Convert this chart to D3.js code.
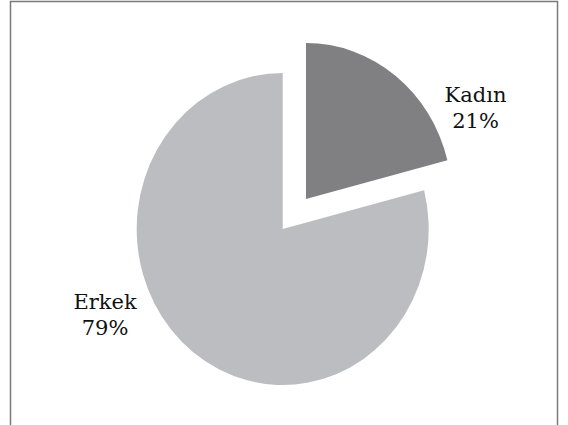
<!DOCTYPE html>
<html>
<head>
<meta charset="utf-8">
<script src="https://cdn.jsdelivr.net/npm/d3@7"></script>
<style>
  html, body { margin: 0; padding: 0; background: #fff; }
  svg { display: block; }
</style>
</head>
<body>
<svg id="chart" width="568" height="425"></svg>
<script>
// Data
const categories = ["Kadın", "Erkek"];
const values = [21, 79];
const percentLabels = ["21%", "79%"];

const colors = { "Kadın": "#808083", "Erkek": "#bcbdc0" };

const W = 568, H = 425;
const cx = 282.7, cy = 229;
const ry = 156, rx = 146;
const explode = 38;

const svg = d3.select("#chart");

// Frame
svg.append("rect")
  .attr("x", 10.5).attr("y", 1.5)
  .attr("width", 547).attr("height", 440)
  .attr("fill", "none")
  .attr("stroke", "#7a7a7a")
  .attr("stroke-width", 1.5);

const data = categories.map((c, i) => ({ name: c, value: values[i], label: percentLabels[i] }));

const pie = d3.pie().sort(null).value(d => d.value);
const arcs = pie(data);
const arc = d3.arc().innerRadius(0).outerRadius(ry);

arcs.forEach(a => {
  const mid = (a.startAngle + a.endAngle) / 2;
  const off = a.data.name === "Kadın" ? explode : 0;
  const dx = off * Math.sin(mid), dy = -off * Math.cos(mid);
  svg.append("g")
    .attr("transform", `translate(${cx + dx},${cy + dy}) scale(${rx / ry},1)`)
    .append("path")
    .attr("d", arc(a))
    .attr("fill", colors[a.data.name]);
});

// Labels
const labelPos = { "Kadın": [475.5, 101.5], "Erkek": [105, 309] };
data.forEach(d => {
  const [x, y] = labelPos[d.name];
  const t = svg.append("text")
    .attr("x", x).attr("y", y)
    .attr("text-anchor", "middle")
    .attr("font-family", "'DejaVu Serif', serif")
    .attr("font-size", 21)
    .attr("fill", "#111");
  t.append("tspan").attr("x", x).attr("dy", 0).text(d.name);
  t.append("tspan").attr("x", x).attr("dy", 26).text(d.label);
});
</script>
</body>
</html>
